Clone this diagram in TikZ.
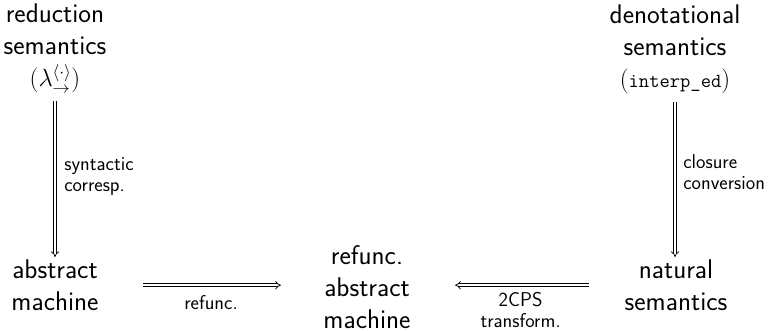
\documentclass[tikz,border=0pt]{standalone}
\usepackage{fontspec}
\usetikzlibrary{arrows.meta}
\begin{document}
\begin{tikzpicture}[x=1pt,y=-1pt,
  main/.style={font=\sffamily\fontsize{27}{32}\selectfont, align=center, inner sep=0pt, anchor=north},
  lab/.style={font=\sffamily\fontsize{20}{21}\selectfont, inner sep=0pt},
  dbl/.style={double, double distance=2.2pt, line width=0.7pt, -{Implies}}]
\useasboundingbox (0,0) rectangle (775,331);
\node[main] (red) at (55,4) {reduction\\semantics\\$(\lambda^{\langle\cdot\rangle}_{\rightarrow})$};
\node[main] (den) at (675,5) {denotational\\semantics\\$($\mbox{\fontsize{20}{21}\selectfont\ttfamily interp\_ed}$)$};
\node[main] (abs) at (55,259.5) {abstract\\machine};
\node[main] (ram) at (367,245) {refunc.\\abstract\\machine};
\node[main] (nat) at (676,259.5) {natural\\semantics};
\draw[dbl, shorten <=8pt, shorten >=2.5pt] (red.south) -- (abs.north)
  node[midway, right=9pt, lab, align=left] {syntactic\\corresp.};
\draw[dbl, shorten <=8pt, shorten >=2.5pt] (den.south) -- (den.south |- nat.north)
  node[pos=0.47, right=8pt, lab, align=left] {closure\\conversion};
\draw[dbl, shorten <=44.4pt, shorten >=42.4pt] (abs.east) -- (abs.east -| ram.west)
  node[midway, below=10pt, lab] {refunc.};
\draw[dbl, shorten <=36pt, shorten >=44.4pt] (nat.west) -- (nat.west -| ram.east)
  node[midway, below=7pt, xshift=3pt, lab, align=center] {2CPS\\transform.};
\end{tikzpicture}
\end{document}
